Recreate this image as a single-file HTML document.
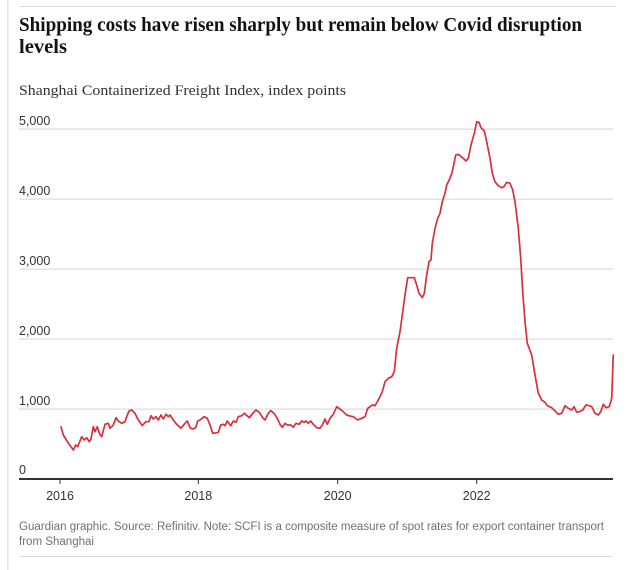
<!DOCTYPE html>
<html>
<head>
<meta charset="utf-8">
<style>
  html, body { margin: 0; padding: 0; background: #ffffff; }
  body { width: 640px; height: 570px; overflow: hidden; }
  svg { display: block; }
</style>
</head>
<body>
<svg width="640" height="570" viewBox="0 0 640 570" xmlns="http://www.w3.org/2000/svg">
  <rect x="0" y="0" width="640" height="570" fill="#ffffff"/>
  <!-- left border -->
  <rect x="7" y="0" width="1.5" height="570" fill="#e6e6e6"/>
  <!-- top rule -->
  <rect x="19" y="6" width="596" height="1" fill="#dcdcdc"/>

  <!-- Title -->
  <text x="19" y="31" font-family="'Liberation Serif', serif" font-weight="bold" font-size="20" fill="#121212" textLength="563" lengthAdjust="spacingAndGlyphs">Shipping costs have risen sharply but remain below Covid disruption</text>
  <text x="19" y="53" font-family="'Liberation Serif', serif" font-weight="bold" font-size="20" fill="#121212" textLength="48" lengthAdjust="spacingAndGlyphs">levels</text>

  <!-- Subtitle -->
  <text x="19" y="95" font-family="'Liberation Serif', serif" font-size="15" fill="#333333" textLength="327" lengthAdjust="spacingAndGlyphs">Shanghai Containerized Freight Index, index points</text>

  <!-- gridlines -->
  <g fill="#dcdcdc">
    <rect x="19" y="128.5" width="594" height="1.2"/>
    <rect x="19" y="198.5" width="594" height="1.2"/>
    <rect x="19" y="268.5" width="594" height="1.2"/>
    <rect x="19" y="338.5" width="594" height="1.2"/>
    <rect x="19" y="408.5" width="594" height="1.2"/>
  </g>

  <!-- y labels -->
  <g font-family="'Liberation Sans', sans-serif" font-size="12.5" fill="#333333">
    <text x="19" y="125">5,000</text>
    <text x="19" y="195">4,000</text>
    <text x="19" y="265">3,000</text>
    <text x="19" y="335">2,000</text>
    <text x="19" y="405">1,000</text>
    <text x="19" y="474">0</text>
  </g>

  <!-- data line -->
  <polyline fill="none" stroke="#d8303d" stroke-width="1.7" stroke-linejoin="round" stroke-linecap="round"
    points="61,426.7 63.3,435 68.3,443 73.3,450 75.7,445 77.7,446.7 81.7,436.7 84.3,440 86.7,437.7 89.3,441.7 91,439 93.3,426.7 95,431.7 97.3,426.7 99.3,433.3 101.7,436.7 105,424.3 108.3,423.3 110,428.3 113.3,425 116,417.7 118.3,421 121.7,423.3 125,421.7 126.7,416.7 129,411 131.7,410 135,413.3 137.7,419 142.3,425.7 145.7,421.7 149,421.7 151,415.7 153.3,419 156,416.7 158.3,420 161,415 163.3,419 166,414.3 168.3,416.7 170,415 173.3,420 176.7,424.3 181,428.3 185,423.3 187.3,421 190,427.7 192.7,429 195.7,427.7 197.7,421 200,420 204,416.7 207.3,418.3 210,425 212.7,433.3 216.7,432.7 218.3,432.3 220.7,425 223.3,424.3 225,425.7 227.3,421 230.7,425.7 233.3,421 236,422.3 238.3,416.7 241.7,415.7 244.3,413.3 249.3,417.7 252.7,413.3 256,410 259.3,412.3 262.7,417.7 265,420 268.3,413.3 270.7,410.7 274,413.3 277.3,418.3 280,424.3 282.3,427.3 285,423.3 287.3,425 290.7,425 293.3,427.3 296,423.3 299.3,424.3 301.7,421 304,422.3 306,421 308.3,423.3 310.7,421 313.3,424.3 316.7,427.7 320,428.3 322.7,424.3 325,419 327.3,424.3 330,418.3 333.3,414.3 336.7,406.7 340,409 343.3,411.7 346.7,415 350,416 353.3,416.7 357.7,420 361.7,418.3 365,416.7 367.7,408.3 370,406.7 372.3,405 375,405.7 377.7,401 380,396.7 382.3,391.7 385,381.7 388.3,378.3 391.7,376.7 394.3,371.7 396.7,348.3 400,331.7 402.3,315 405,295 407.7,277.7 411,277.7 414.3,277.7 416.7,285 419,293.3 422.3,297.7 424.3,293.3 426.7,275 429,261.7 431,260 432.3,243.3 435,228.3 437.7,218.3 440,213.3 442.3,201.7 445,193.3 446.7,185 450,178.3 452.3,171.7 455.7,155 458.3,154.3 460,155.7 463.3,158.3 466,161 468.3,158.3 471,145 474.3,133.3 476.7,121.7 479,122.3 481,127.7 484.3,131 486.7,141.7 490,158.3 492.3,173.3 495,181.7 498.3,185.7 501.7,187.7 504,186.7 506.7,182.3 510,183.3 512.7,190 515,201.7 518.3,228.3 520.7,258.3 522.7,291.7 525,321.7 527.3,343.3 531.7,355 535,375 538.3,393.3 541.7,400 545,402.3 547.3,405.7 551.7,407.7 555,411 558.3,414.3 561.7,413.3 565,405.7 568.3,408.3 571.7,410 574,406.7 576.7,412.3 579.3,411.7 582.7,410 586,405 589.3,405.7 591.7,406.7 595,413.3 598.3,415 600.7,411.7 603.3,404.3 606,407.7 609.3,406.7 611.7,398.3 613.3,355"/>

  <!-- x axis baseline -->
  <rect x="19" y="478" width="594" height="2" fill="#333333"/>
  <!-- ticks -->
  <g fill="#333333">
    <rect x="59.5" y="480" width="1" height="4"/>
    <rect x="197.8" y="480" width="1" height="4"/>
    <rect x="337.2" y="480" width="1" height="4"/>
    <rect x="476.2" y="480" width="1" height="4"/>
  </g>
  <!-- x labels -->
  <g font-family="'Liberation Sans', sans-serif" font-size="12.5" fill="#333333" text-anchor="middle">
    <text x="60" y="500">2016</text>
    <text x="198.3" y="500">2018</text>
    <text x="337.7" y="500">2020</text>
    <text x="476.7" y="500">2022</text>
  </g>

  <!-- footer -->
  <g font-family="'Liberation Sans', sans-serif" font-size="11.5" fill="#707070">
    <text x="19" y="530" textLength="585" lengthAdjust="spacingAndGlyphs">Guardian graphic. Source: Refinitiv. Note: SCFI is a composite measure of spot rates for export container transport</text>
    <text x="19" y="545" textLength="75" lengthAdjust="spacingAndGlyphs">from Shanghai</text>
  </g>
  <!-- bottom rule -->
  <rect x="19" y="556" width="594" height="1" fill="#dcdcdc"/>
</svg>
</body>
</html>
